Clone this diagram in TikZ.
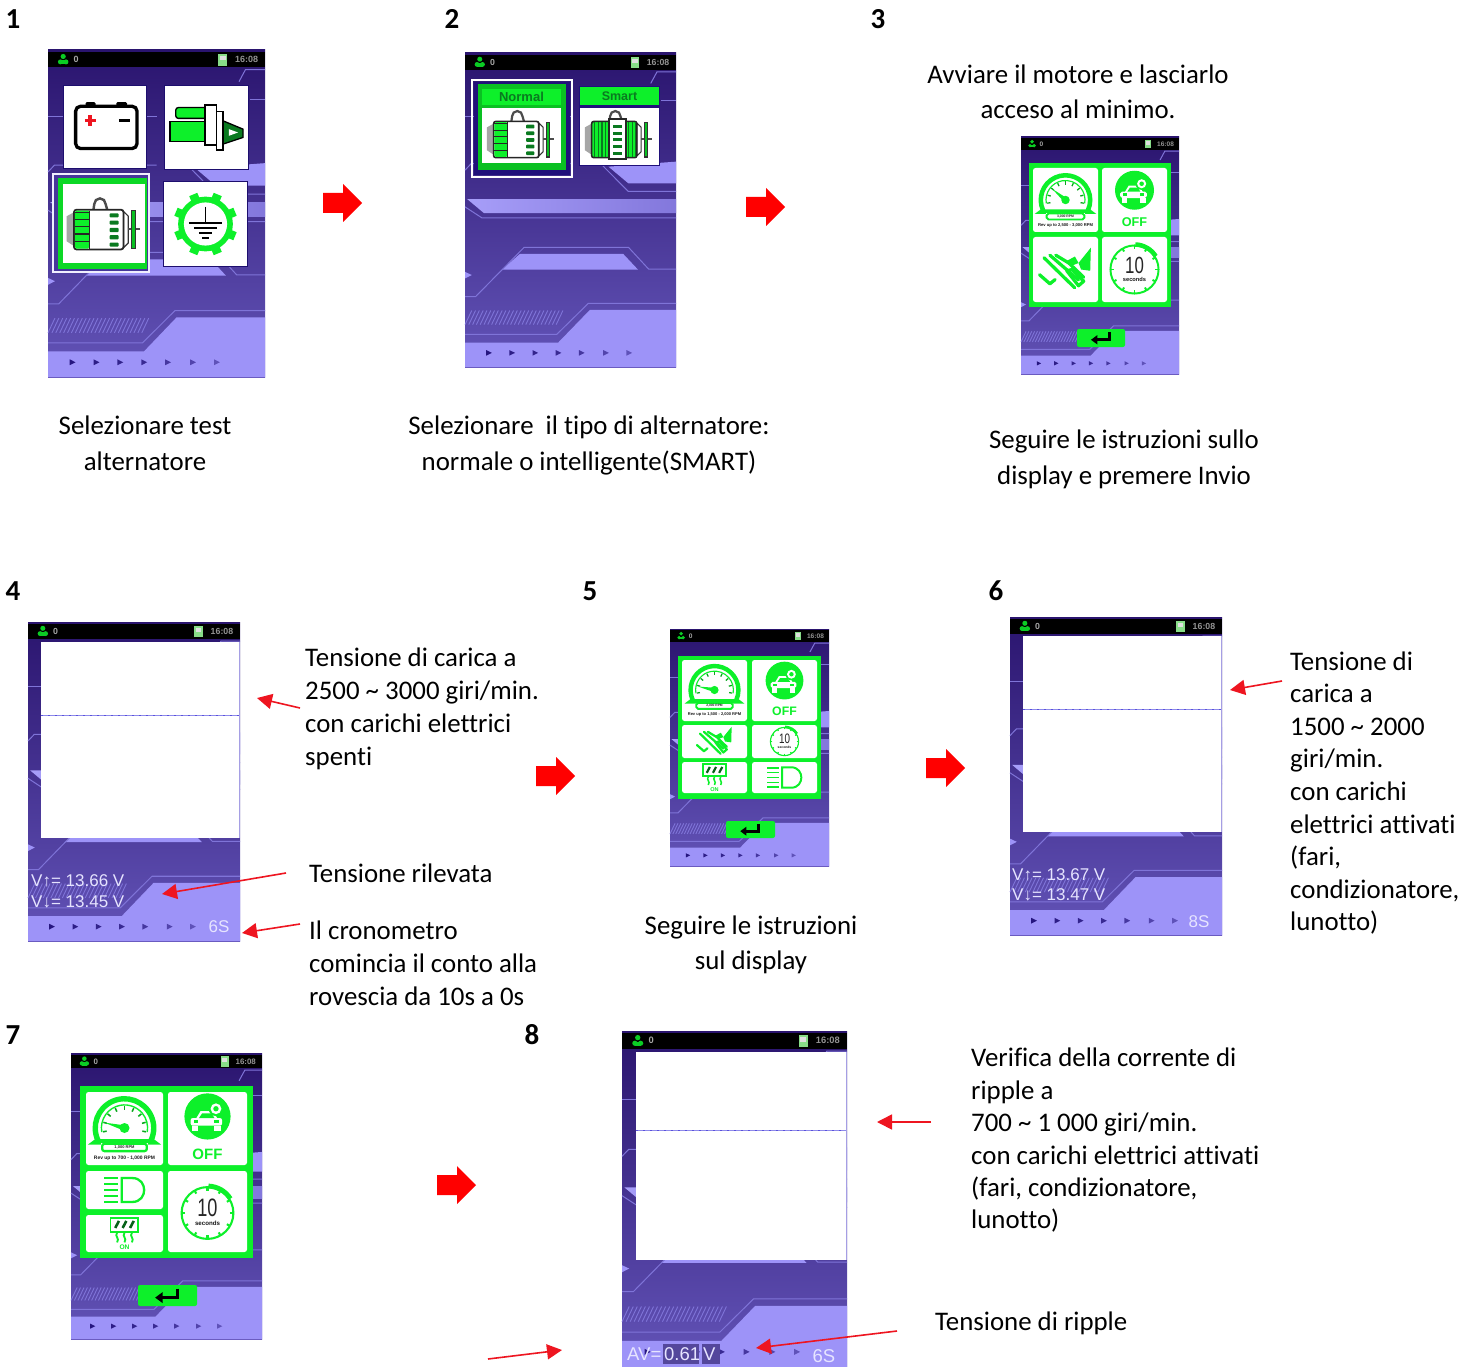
\documentclass[tikz,border=0pt]{standalone}
\usepackage{graphicx}
\usepackage{fontspec}
\setmainfont{Carlito}[Ligatures=NoCommon]
\newfontfamily\scrfont{Liberation Sans}
\usetikzlibrary{arrows.meta}
\definecolor{scrtop}{HTML}{2A146E}
\definecolor{scrmid}{HTML}{46379A}
\definecolor{scrbot}{HTML}{6354B8}
\definecolor{scrline}{HTML}{7F74D8}
\definecolor{scrlight}{HTML}{9D93F8}
\definecolor{scrmark}{HTML}{20107A}
\definecolor{igreen}{HTML}{0DF02A}
\definecolor{dgreen}{HTML}{0A7A20}
\definecolor{redc}{HTML}{EE1520}
\definecolor{scrtxt}{HTML}{E6E4FF}
\definecolor{wavec}{HTML}{8E8AEA}
\definecolor{wavedark}{HTML}{5A52DC}
\newcommand\Fz[1]{\pgfmathsetmacro\tmpfz{#1}\fontsize{\tmpfz}{\tmpfz}\selectfont}
\tikzset{
  bodytxt/.style={font=\fontsize{26.85}{33}\selectfont,align=left,anchor=west,inner sep=0pt,text=black},
  bodyctr/.style={font=\fontsize{26.85}{36}\selectfont,align=center,anchor=center,inner sep=0pt,text=black},
  stepnum/.style={font=\fontsize{29}{29}\selectfont\bfseries,inner sep=0pt,text=black},
  redarr/.style={draw=redc,line width=1.6pt,-{Triangle[length=15pt,width=15pt]}},
  bgline/.style={draw=scrline,line width=1pt},
  valtxt/.style={font=\scrfont\fontsize{17}{17}\selectfont,text=scrtxt,inner sep=0pt},
  bigval/.style={font=\scrfont\fontsize{18.5}{18.5}\selectfont,text=scrtxt,inner sep=0pt},
  icotxt/.style={inner sep=0pt}
}
% ---------- device background in normalised coordinates
\newcommand\Screen[4]{%
\pgfmathsetmacro\kk{#3/217}%
\begin{scope}[shift={(#1,#2)},x=#3pt,y=-#4pt]
  \shade[top color=scrtop,middle color=scrmid,bottom color=scrbot] (0,0) rectangle (1,1);
  % upper right band
  \fill[scrlight] (.68,.362) -- (1,.346) -- (1,.415) -- (.774,.415) -- cycle;
  \draw[bgline] (.65,.357) -- (.774,.441) -- (1,.441);
  \draw[bgline] (0,.203) -- (.5,.203);
  \draw[bgline] (.93,.150) -- (1,.150);
  \draw[bgline] (.88,.097) -- (.91,.06) -- (1,.06);
  \draw[bgline] (0,.373) -- (.03,.352) -- (.5,.352);
  % middle band
  \shade[left color=scrlight!90!white,right color=scrlight!70!scrmid] (.01,.465) -- (1,.465) -- (1,.51) -- (.09,.51) -- cycle;
  \draw[bgline] (0,.49) -- (.08,.525) -- (1,.525);
  % trapezoid
  \fill[scrlight] (.175,.69) -- (.26,.64) -- (.75,.64) -- (.82,.69) -- cycle;
  \draw[bgline] (0,.776) -- (.05,.776) -- (.28,.619) -- (.775,.619) -- (.87,.688) -- (1,.688);
  \fill[scrlight] (0,.697) -- (.032,.707) -- (0,.718) -- cycle;
  % lower light area
  \fill[scrlight] (0,.922) -- (.442,.922) -- (.592,.818) -- (1,.818) -- (1,1) -- (0,1) -- cycle;
  \draw[bgline] (0,.896) -- (.435,.896) -- (.585,.797) -- (1,.797);
  % hatching
  \foreach \u in {0,.018,...,.45}{\draw[draw=scrline,line width=.9pt] (\u,.865) -- ++(.032,-.045);}
  % play marks
  \foreach \u/\c in {.1/95,.21/90,.32/85,.43/80,.54/70,.655/60,.765/50}{%
    \fill[scrmark!\c!scrlight] (\u,.946) -- ++(.027,.009) -- ++(-.027,.009) -- cycle;}
  % status bar
  \fill[black] (0,.006) rectangle (1,.053);
  \fill[igreen!85!black] (.07,.029) ++(0pt,{3*\kk pt}) circle[radius={2.6*\kk pt}];
  \fill[igreen!85!black] (.07,.029) ++({-2.8*\kk pt},{-2.4*\kk pt}) circle[radius={2.5*\kk pt}];
  \fill[igreen!85!black] (.07,.029) ++({2.8*\kk pt},{-2.4*\kk pt}) circle[radius={2.5*\kk pt}];
  \fill[igreen!85!black] (.07,.029) ++({-2.8*\kk pt},{-4.9*\kk pt}) rectangle ++({5.6*\kk pt},{4*\kk pt});
  \node[icotxt,text=gray!70] (st0) at (.13,.029) {\scrfont\Fz{9*\kk}\bfseries 0};
  \fill[gray!45!green!60!white] (.785,.012) rectangle (.825,.048);
  \fill[white!75!gray] (.792,.018) rectangle (.818,.032);
  \node[icotxt,text=gray!85] (stt) at (.915,.029) {\scrfont\Fz{9*\kk}\bfseries 16:08};
\end{scope}}
\newcommand\WhiteRect[5]{% x1 y1 x2 y2 wave-y
  \fill[white] (#1,#2) rectangle (#3,#4);
  \draw[scrline!70!white,line width=.8pt] (#3,#2) -- (#3,#4);
  \draw[draw=wavec,line width=1.6pt] (#1,#5) -- (#3,#5);
  \draw[draw=wavedark,line width=1.6pt,dash pattern=on 1.5pt off 5.5pt] (#1,#5) -- (#3,#5);}
\newcommand\Tile[4]{\fill[white,rounded corners=2.5pt] (#1,#2) rectangle (#3,#4);}
\newcommand\DarkBox[4]{\fill[scrmark!90!black] (#1-1,#2-1) rectangle (#3+1,#4+1);\fill[white] (#1,#2) rectangle (#3,#4);}
\newcommand\Button[4]{%
  \fill[igreen,rounded corners=2pt] (#1,#2) rectangle (#3,#4);
  \pgfmathsetmacro\bw{#3-#1}\pgfmathsetmacro\bh{#4-#2}%
  \pgfmathsetmacro\bx{(#1+#3)/2}\pgfmathsetmacro\by{(#2+#4)/2}%
  \coordinate (btna) at ({\bx+.17*\bw},{\by-.33*\bh});
  \coordinate (btnb) at ({\bx+.17*\bw},{\by+.1*\bh});
  \coordinate (btnc) at ({\bx-.21*\bw},{\by+.1*\bh});
  \draw[black,line width={.17*\bh pt},-{Triangle[length={.36*\bh pt},width={.5*\bh pt}]}] (btna) -- (btnb) -- (btnc);}
\newcommand\BigArrow[2]{%
  \fill[red] (#1,#2-10) -- (#1+20,#2-10) -- (#1+20,#2-19) -- (#1+39,#2) -- (#1+20,#2+19) -- (#1+20,#2+10) -- (#1,#2+10) -- cycle;}
% ---------- icons, y up, unit = s px, centred
\newenvironment{icoscope}[3]{\def\icS{#3}\begin{scope}[shift={(#1,#2)},x=#3pt,y=#3pt]}{\end{scope}}
\newcommand\icBattery[3]{\begin{icoscope}{#1}{#2}{#3}
  \fill[black,rounded corners=.015*\icS pt] (-.24,.24) rectangle (-.12,.3); \fill[black,rounded corners=.015*\icS pt] (.13,.24) rectangle (.26,.3);
  \draw[black,line width=.04*\icS pt,rounded corners=.06*\icS pt,fill=white] (-.36,-.26) rectangle (.38,.25);
  \draw[redc,line width=.04*\icS pt] (-.25,.08) -- (-.12,.08) (-.185,.015) -- (-.185,.145);
  \draw[black,line width=.04*\icS pt] (.16,.08) -- (.29,.08);
\end{icoscope}}
\newcommand\icStarter[3]{\begin{icoscope}{#1}{#2}{#3}
  \begin{scope}[draw=black,line width=.016*\icS pt]
  \filldraw[fill=igreen,rounded corners=.03*\icS pt] (-.37,.11) rectangle (0,.24);
  \filldraw[fill=igreen] (-.44,-.17) rectangle (-.02,.07);
  \filldraw[fill=white] (-.02,-.21) rectangle (.12,.27);
  \filldraw[fill=white] (.12,-.27) rectangle (.2,.19);
  \filldraw[fill=dgreen] (.2,.08) -- (.44,-.02) -- (.44,-.12) -- (.2,-.2) -- cycle;
  \fill[white] (.27,-.02) -- (.38,-.06) -- (.27,-.1) -- cycle;
  \end{scope}
\end{icoscope}}
\newcommand\icGround[3]{\begin{icoscope}{#1}{#2}{#3}
  \foreach \a in {0,45,...,315}{\draw[igreen,line width=.105*\icS pt] (\a+22.5:.29) -- (\a+22.5:.385);}
  \fill[igreen] (0,0) circle[radius=.33]; \fill[white] (0,0) circle[radius=.26];
  \draw[black,line width=.022*\icS pt] (0,.21) -- (0,.01);
  \draw[black,line width=.022*\icS pt] (-.2,.01) -- (.2,.01);
  \draw[black,line width=.022*\icS pt] (-.14,-.05) -- (.14,-.05);
  \draw[black,line width=.022*\icS pt] (-.08,-.11) -- (.08,-.11);
  \draw[black,line width=.022*\icS pt] (-.04,-.17) -- (.04,-.17);
\end{icoscope}}
\newcommand\icAltCommon{%
  \draw[black!70,line width=.03*\icS pt] (-.13,.17) -- (-.12,.24) arc[start angle=180,end angle=0,radius=.07] -- (.04,.17);
  \fill[gray!70] (-.46,.09) -- (-.37,.14) -- (-.37,-.28) -- (-.46,-.22) -- cycle;
  \filldraw[draw=black!80,fill=white,line width=.014*\icS pt] (.24,.15) -- (.3,.09) -- (.3,-.24) -- (.24,-.3) -- cycle;
  \draw[black!70,line width=.03*\icS pt] (.3,-.07) -- (.45,-.07);
  \filldraw[draw=black!80,fill=igreen!80!black,line width=.016*\icS pt] (.34,.16) rectangle (.39,-.31);}
\newcommand\icAlt[3]{\begin{icoscope}{#1}{#2}{#3}
  \icAltCommon
  \filldraw[draw=black!85,fill=white,line width=.022*\icS pt,rounded corners=.03*\icS pt] (-.37,.17) rectangle (.24,-.32);
  \fill[igreen,rounded corners=.02*\icS pt] (-.36,.16) rectangle (-.18,-.31);
  \foreach \y in {.1,.01,-.08,-.17,-.26}{%
    \draw[black!85,line width=.014*\icS pt] (-.36,\y+.04) -- (-.18,\y+.04);
    \fill[dgreen,rounded corners=.01*\icS pt] (.07,\y-.025) rectangle (.18,\y+.025);}
  \draw[black!85,line width=.018*\icS pt] (-.18,.16) -- (-.18,-.31);
\end{icoscope}}
\newcommand\icSmart[3]{\begin{icoscope}{#1}{#2}{#3}
  \icAltCommon
  \filldraw[draw=black!85,fill=igreen,line width=.022*\icS pt,rounded corners=.03*\icS pt] (-.37,.17) rectangle (.24,-.32);
  \foreach \x in {-.33,-.28,-.23,-.18,.13,.18,.22}{\draw[dgreen,line width=.014*\icS pt] (\x,.16) -- (\x,-.31);}
  \filldraw[draw=black!85,fill=white,line width=.024*\icS pt] (-.14,.2) rectangle (.09,-.34);
  \foreach \y in {.1,.01,-.08,-.17,-.26}{\fill[dgreen] (-.08,\y-.02) rectangle (.04,\y+.02);}
\end{icoscope}}
\newcommand\icGauge[6]{\begin{icoscope}{#1}{#2}{#3}
  \draw[igreen,line width=.07*\icS pt] (-.37,-.18) -- (205:.38) arc[start angle=205,end angle=-25,radius=.38] -- (.37,-.18) -- cycle;
  \draw[igreen,line width=.018*\icS pt] (190:.3) arc[start angle=190,end angle=-10,radius=.3];
  \foreach \a in {-10,15,...,190}{\draw[igreen!70!black,line width=.02*\icS pt] (\a:.235) -- (\a:.285);}
  \fill[igreen] (0,0) circle[radius=.065];
  \fill[igreen] (#6+90:.035) -- (#6:.27) -- (#6-90:.035) -- cycle;
  \fill[white] (-.3,-.2) rectangle (.3,-.31);
  \draw[igreen,line width=.03*\icS pt,rounded corners=.03*\icS pt] (-.29,-.205) rectangle (.29,-.3);
  \node[icotxt,text=black!85] (rpm) at (0,-.252) {\scrfont\Fz{.052*\icS}\bfseries #4};
  \node[icotxt,text=black!90] (rev) at (0,-.39) {\scrfont\Fz{.064*\icS}\bfseries #5};
\end{icoscope}}
\newcommand\icOff[3]{\begin{icoscope}{#1}{#2}{#3}
  \fill[igreen] (0,.15) circle[radius=.3];
  \fill[white,rounded corners=.03*\icS pt] (-.22,.03) rectangle (.19,.13);
  \fill[white] (-.15,.12) -- (-.09,.22) -- (.07,.22) -- (.13,.12) -- cycle;
  \fill[igreen] (-.11,.13) -- (-.07,.19) -- (.05,.19) -- (.09,.13) -- cycle;
  \fill[white] (-.2,-.04) rectangle (-.12,.03); \fill[white] (.09,-.04) rectangle (.17,.03);
  \fill[igreen] (-.18,.06) rectangle (-.12,.1); \fill[igreen] (.09,.06) rectangle (.15,.1);
  \fill[igreen] (.11,.25) circle[radius=.095]; \fill[white] (.11,.25) circle[radius=.07]; \fill[igreen] (.11,.25) circle[radius=.035];
  \node[icotxt,text=igreen] (off) at (0,-.345) {\scrfont\Fz{.195*\icS}\bfseries OFF};
\end{icoscope}}
\newcommand\icTimer[3]{\begin{icoscope}{#1}{#2}{#3}
  \draw[igreen,line width=.03*\icS pt] (0,0) circle[radius=.37];
  \foreach \a in {0,30,...,330}{\draw[igreen,line width=.03*\icS pt] (\a:.32) -- (\a:.37);}
  \draw[igreen,line width=.07*\icS pt] (88:.385) arc[start angle=88,end angle=32,radius=.385];
  \node[icotxt,text=black!85] (ten) at (0,.07) {\scrfont\Fz{.36*\icS}\scalebox{.72}[1]{10}};
  \node[icotxt,text=black!90] (sec) at (0,-.15) {\scrfont\Fz{.088*\icS}\bfseries seconds};
\end{icoscope}}
\newcommand\icHand[3]{\begin{icoscope}{#1}{#2}{#3}
  \fill[igreen] (.2,.1) -- (.39,.335) -- (.38,-.02) -- (.24,.0) -- cycle;
  \fill[igreen] (.015,.13) -- (.145,.2) -- (.2,.1) -- (.1,.06) -- cycle;
  \begin{scope}[igreen,line width=.05*\icS pt,line cap=round,line join=round]
  \draw (-.33,.18) -- (.14,-.28);
  \draw (-.24,.22) -- (.2,-.16);
  \draw (-.15,.22) -- (.05,.1) -- (.28,-.12);
  \draw (.02,-.02) -- (.2,-.25) -- (.28,-.18) -- (.1,0) -- cycle;
  \draw (-.4,-.08) -- (-.24,-.22) -- (-.16,-.155);
  \end{scope}
\end{icoscope}}
\newcommand\icLamp[3]{\begin{icoscope}{#1}{#2}{#3}
  \draw[igreen,line width=.06*\icS pt] (-.07,.31) -- (.2,.31) .. controls (.42,.31) and (.51,.14) .. (.51,0) .. controls (.51,-.14) and (.42,-.31) .. (.2,-.31) -- (-.07,-.31) -- cycle;
  \foreach \y in {.3,.15,0,-.15,-.3}{\draw[igreen,line width=.055*\icS pt] (-.52,\y) -- (-.16,\y);}
\end{icoscope}}
\newcommand\icHeat[3]{\begin{icoscope}{#1}{#2}{#3}
  \draw[igreen,line width=.05*\icS pt] (-.38,.05) rectangle (.37,.43);
  \foreach \x in {-.2,0,.2}{%
    \draw[dgreen!80!black,line width=.07*\icS pt] (\x-.05,.15) -- (\x+.05,.34);
    \draw[igreen,line width=.05*\icS pt] (\x,.02) .. controls (\x-.08,-.08) and (\x+.08,-.12) .. (\x,-.24);}
  \node[icotxt,text=igreen] (on) at (0,-.38) {\scrfont\Fz{.18*\icS}\bfseries ON};
\end{icoscope}}
\begin{document}
\begin{tikzpicture}[x=1pt,y=-1pt]
\useasboundingbox (0,0) rectangle (1475,1367);
\fill[white] (0,0) rectangle (1475,1367);
% ---------------- step numbers
\node[stepnum] (n1) at (13,19) {1};
\node[stepnum] (n2) at (452,19) {2};
\node[stepnum] (n3) at (878,19) {3};
\node[stepnum] (n4) at (13,591) {4};
\node[stepnum] (n5) at (590,591) {5};
\node[stepnum] (n6) at (996,591) {6};
\node[stepnum] (n7) at (13,1035) {7};
\node[stepnum] (n8) at (532,1035) {8};
% ---------------- screen 1
\begin{scope}[name prefix=s1-]
\Screen{48}{50}{217}{327}
\DarkBox{64}{86}{146}{168}
\DarkBox{165}{86}{248}{169}
\DarkBox{164}{182}{247}{266}
\fill[white!85!scrlight] (52,173) rectangle (150,273);
\fill[scrmid] (54,175) rectangle (148,271);
\fill[igreen!90!black] (58,178) rectangle (147,269);
\fill[white] (63,184) rectangle (145,263);
\icBattery{105.5}{127}{83}
\icStarter{206.5}{127.5}{83}
\icAlt{104}{223.5}{81}
\icGround{205.5}{224}{83}
\end{scope}
\BigArrow{323}{203}
% ---------------- screen 2
\begin{scope}[name prefix=s2-]
\Screen{465}{53}{211}{314}
\fill[scrmark] (474,82) rectangle (570,175);
\draw[white,line width=1.6pt] (472,80) rectangle (572,177);
\fill[igreen!80!black] (478,84) rectangle (566,170);
\fill[igreen] (482,89) rectangle (561,105);
\fill[white] (482,108) rectangle (561,163);
\node[icotxt,text=dgreen] (nm) at (521.5,97) {\scrfont\Fz{13}\bfseries Normal};
\icAlt{521}{134}{74}
\fill[scrmark] (579,86) rectangle (660,166);
\fill[igreen] (580,87) rectangle (659,105);
\fill[white] (580,108) rectangle (659,165);
\node[icotxt,text=dgreen] (sm) at (619.5,96.5) {\scrfont\Fz{12.5}\bfseries Smart};
\icSmart{619}{134}{74}
\end{scope}
\BigArrow{746}{207}
% ---------------- screen 3
\begin{scope}[name prefix=s3-]
\Screen{1021}{137}{158}{237}
\fill[igreen] (1029,163) rectangle (1171,307);
\Tile{1033}{168}{1098}{232}
\Tile{1102}{168}{1167}{232}
\Tile{1033}{237}{1098}{302}
\Tile{1102}{237}{1167}{302}
\icGauge{1065.5}{200}{65}{3,000 RPM}{Rev up to 2,500 - 3,000 RPM}{140}
\icOff{1134.5}{200}{65}
\icHand{1065.5}{269.5}{65}
\icTimer{1134.5}{269.5}{65}
\Button{1077}{329}{1125}{347}
\end{scope}
% ---------------- screen 4
\begin{scope}[name prefix=s4-]
\Screen{28}{622}{212}{319}
\WhiteRect{41}{642}{239}{838}{715.5}
\node[valtxt,anchor=west] (v1) at (31,881) {V↑= 13.66 V};
\node[valtxt,anchor=west] (v2) at (31,902) {V↓= 13.45 V};
\node[valtxt,anchor=center] (t1) at (219,927) {6S};
\end{scope}
\BigArrow{536}{776}
% ---------------- screen 5
\begin{scope}[name prefix=s5-]
\Screen{670}{629}{159}{237}
\fill[igreen] (678,656) rectangle (821,799);
\Tile{682}{660}{747}{721}
\Tile{752}{660}{817}{721}
\Tile{682}{725}{747}{758}
\Tile{752}{725}{817}{758}
\Tile{682}{762}{747}{793}
\Tile{752}{762}{817}{793}
\icGauge{714.5}{690}{63}{2,000 RPM}{Rev up to 1,500 - 2,000 RPM}{168}
\icOff{784.5}{690}{63}
\icHand{714.5}{741.5}{44}
\icTimer{784.5}{741.5}{38}
\icHeat{714.5}{777.5}{31}
\icLamp{784.5}{777.5}{33}
\Button{726}{821}{775}{838}
\end{scope}
\BigArrow{926}{768}
% ---------------- screen 6
\begin{scope}[name prefix=s6-]
\Screen{1010}{617}{212}{318}
\WhiteRect{1023}{636}{1221}{832}{709.5}
\node[valtxt,anchor=west] (v1) at (1012,875) {V↑= 13.67 V};
\node[valtxt,anchor=west] (v2) at (1012,895) {V↓= 13.47 V};
\node[valtxt,anchor=center] (t1) at (1199,922) {8S};
\end{scope}
% ---------------- screen 7
\begin{scope}[name prefix=s7-]
\Screen{71}{1053}{191}{286}
\fill[igreen] (80,1086) rectangle (253,1258);
\Tile{86}{1092}{163}{1165}
\Tile{168}{1092}{247}{1165}
\Tile{86}{1171}{163}{1209}
\Tile{86}{1215}{163}{1252}
\Tile{168}{1171}{247}{1252}
\icGauge{124.5}{1128}{77}{1,000 RPM}{Rev up to 700 - 1,000 RPM}{165}
\icOff{207.5}{1128}{77}
\icLamp{124.5}{1190}{38.6}
\icHeat{124.5}{1233.5}{37}
\icTimer{207.5}{1213}{70}
\Button{138}{1285}{197}{1306}
\end{scope}
\BigArrow{437}{1185}
% ---------------- screen 8
\begin{scope}[name prefix=s8-]
\Screen{622}{1031}{225}{336}
\WhiteRect{636}{1052}{846}{1260}{1130.5}
\fill[scrbot!85!black] (663,1344) rectangle (699,1364);
\fill[scrbot!85!black] (702,1344) rectangle (720,1364);
\node[bigval,anchor=west] (av) at (627,1354) {AV=};
\node[bigval,anchor=west] (val) at (664,1354) {0.61};
\node[bigval,anchor=west] (unit) at (703,1354) {V};
\node[bigval,anchor=center] (t1) at (824,1356) {6S};
\end{scope}
% ---------------- texts
\node[bodyctr] (t1a) at (145,443) {Selezionare test\\alternatore};
\node[bodyctr] (t2a) at (589,445) {Selezionare\ \ il tipo di alternatore:\\normale o intelligente(SMART)};
\node[bodyctr,font=\fontsize{26.85}{35}\selectfont] (t3a) at (1078,91.5) {Avviare il motore e lasciarlo\\acceso al minimo.};
\node[bodyctr] (t3b) at (1124,459) {Seguire le istruzioni sullo\\display e premere Invio};
\node[bodytxt] (t4a) at (305,709) {Tensione di carica a\\2500 \textasciitilde{} 3000 giri/min.\\con carichi elettrici\\spenti};
\node[bodytxt] (t4b) at (309,873) {Tensione rilevata};
\node[bodytxt] (t4c) at (309,963) {Il cronometro\\comincia il conto alla\\rovescia da 10s a 0s};
\node[bodyctr,font=\fontsize{26.85}{35}\selectfont] (t5a) at (751,945) {Seguire le istruzioni\\sul display};
\node[bodytxt,font=\fontsize{26.85}{32.6}\selectfont] (t6a) at (1290,793) {Tensione di\\carica a\\1500 \textasciitilde{} 2000\\giri/min.\\con carichi\\elettrici attivati\\(fari,\\condizionatore,\\lunotto)};
\node[bodytxt,font=\fontsize{26.85}{32.4}\selectfont] (t8a) at (971,1140.5) {Verifica della corrente di\\ripple a\\700 \textasciitilde{} 1 000 giri/min.\\con carichi elettrici attivati\\(fari, condizionatore,\\lunotto)};
\node[bodytxt] (t8b) at (935,1323.5) {Tensione di ripple};
% ---------------- red arrows
\coordinate (a1s) at (300,708); \coordinate (a1e) at (257,698);
\coordinate (a2s) at (286,873); \coordinate (a2e) at (162,894);
\coordinate (a3s) at (300,924); \coordinate (a3e) at (242,933);
\coordinate (a4s) at (1282,681); \coordinate (a4e) at (1230,690);
\coordinate (a5s) at (931,1122); \coordinate (a5e) at (877,1122);
\coordinate (a6s) at (897,1331); \coordinate (a6e) at (756,1348);
\coordinate (a7s) at (488,1359); \coordinate (a7e) at (562,1350);
\draw[redarr] (a1s) -- (a1e);
\draw[redarr] (a2s) -- (a2e);
\draw[redarr] (a3s) -- (a3e);
\draw[redarr] (a4s) -- (a4e);
\draw[redarr] (a5s) -- (a5e);
\draw[redarr] (a6s) -- (a6e);
\draw[redarr] (a7s) -- (a7e);
\end{tikzpicture}
\end{document}
